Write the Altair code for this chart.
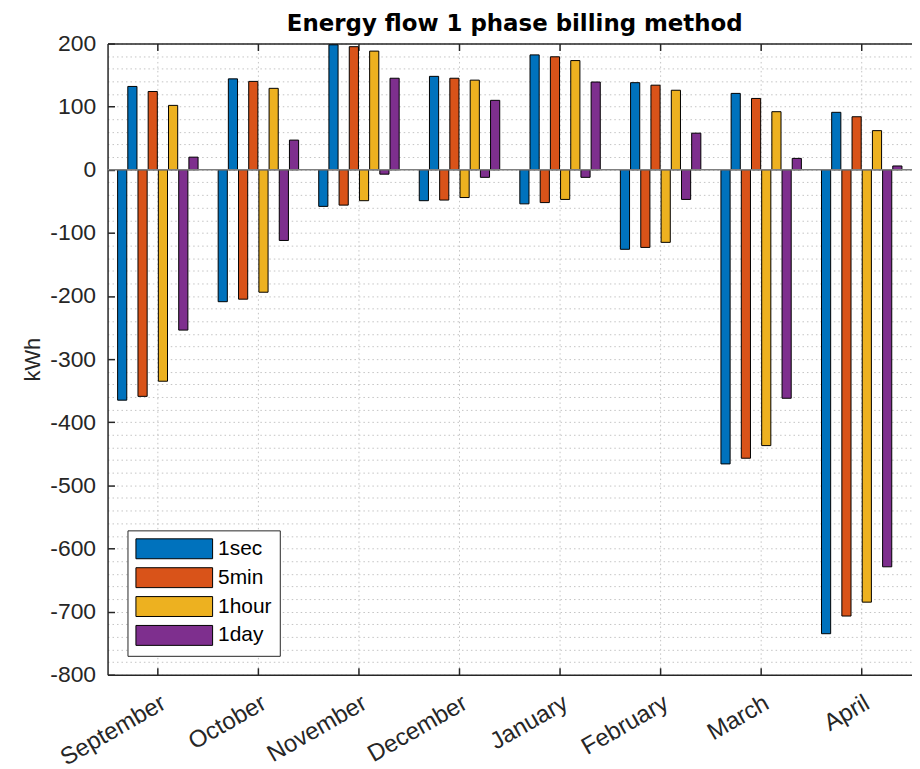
import altair as alt
import pandas as pd

months = ["September", "October", "November", "December",
          "January", "February", "March", "April"]
series = ["1sec", "5min", "1hour", "1day"]
colors = ["#0072BD", "#D95319", "#EDB120", "#7E2F8E"]

neg_1sec = [-365, -209, -58, -49, -54, -126, -466, -735]
pos_1sec = [132, 144, 198, 148, 182, 138, 121, 91]
neg_5min = [-359, -205, -56, -48, -52, -123, -457, -707]
pos_5min = [124, 140, 195, 145, 179, 134, 113, 84]
neg_1hour = [-335, -194, -49, -44, -47, -115, -437, -685]
pos_1hour = [102, 129, 188, 142, 173, 126, 92, 62]
neg_1day = [-254, -112, -7, -12, -12, -47, -362, -629]
pos_1day = [20, 47, 145, 110, 139, 58, 18, 6]

y_ticks = [-800, -700, -600, -500, -400, -300, -200, -100, 0, 100, 200]
minor_grid = list(range(-800, 201, 20))

neg = {"1sec": neg_1sec, "5min": neg_5min, "1hour": neg_1hour, "1day": neg_1day}
pos = {"1sec": pos_1sec, "5min": pos_5min, "1hour": pos_1hour, "1day": pos_1day}

rows = []
for i, m in enumerate(months):
    for s in series:
        rows.append({"month": m, "series": s, "slot": s + " neg", "value": neg[s][i]})
        rows.append({"month": m, "series": s, "slot": s + " pos", "value": pos[s][i]})
df = pd.DataFrame(rows)
slot_order = [f"{s} {k}" for s in series for k in ("neg", "pos")]

FONT = "Liberation Sans"
AX = "#262626"
GRID = "#c4c4c4"
DASH = [1.5, 3]

yscale = alt.Scale(domain=[-800, 200], nice=False, zero=False)
xscale = alt.Scale(domain=months, paddingInner=0.2, paddingOuter=0.1)

grid_layer = alt.Chart(pd.DataFrame({"g": minor_grid})).mark_point(opacity=0).encode(
    y=alt.Y("g:Q", scale=yscale,
            axis=alt.Axis(orient="left", values=minor_grid, grid=True, gridColor=GRID,
                          gridDash=DASH, gridWidth=1, labels=False, ticks=False,
                          domain=False, title=None))
)

top_layer = alt.Chart(pd.DataFrame({"month": months})).mark_point(opacity=0).encode(
    x=alt.X("month:N", sort=months, scale=xscale,
            axis=alt.Axis(orient="top", labels=False, title=None, domain=True,
                          domainColor=AX, domainWidth=1.5, ticks=True, tickColor=AX,
                          tickSize={"expr": "-7"}, tickWidth=1.5, grid=False))
)

bars = alt.Chart(df).mark_bar(stroke="black", strokeWidth=1, opacity=1).encode(
    x=alt.X("month:N", sort=months, scale=xscale,
            axis=alt.Axis(orient="bottom", title=None, labelAngle=330, labelAlign="right",
                          labelBaseline="top", labelFontSize=24, labelFont=FONT,
                          labelColor=AX, labelPadding=23, domainColor=AX, domainWidth=1.5,
                          tickColor=AX, tickSize={"expr": "-7"}, tickWidth=1.5,
                          grid=True, gridDash=DASH, gridColor=GRID, gridWidth=1)),
    xOffset=alt.XOffset("slot:N", sort=slot_order, scale=alt.Scale(paddingInner=0.1)),
    y=alt.Y("value:Q", scale=yscale,
            axis=alt.Axis(orient="left", values=y_ticks, title="kWh", titleFontSize=22,
                          titleFont=FONT, titleFontWeight="normal", titleColor=AX,
                          titlePadding=5, labelFontSize=23, labelFont=FONT, labelColor=AX,
                          labelExpr="'' + datum.value",
                          labelPadding=19, tickSize={"expr": "-7"}, tickColor=AX,
                          tickWidth=1.5, domainColor=AX, domainWidth=1.5, grid=False)),
    color=alt.Color("series:N", sort=series,
                    scale=alt.Scale(domain=series, range=colors),
                    legend=alt.Legend(title=None, orient="none", legendX=20, legendY=489,
                                      symbolType="M-1,-1H6.7V1H-1Z", symbolSize=400,
                                      symbolStrokeColor="black", symbolStrokeWidth=1,
                                      symbolOpacity=1, labelFont=FONT, labelFontSize=21,
                                      labelColor="black", labelOffset=62, rowPadding=4,
                                      padding=8, strokeColor=AX, fillColor="white")),
)

zero = alt.Chart(pd.DataFrame({"z": [0]})).mark_rule(color="#7f7f7f", strokeWidth=1.5).encode(
    y=alt.Y("z:Q", scale=yscale, axis=None)
)

chart = alt.layer(grid_layer, top_layer, bars, zero).resolve_axis(
    x="independent", y="independent"
).properties(
    width=808, height=634,
    title=alt.Title("Energy flow 1 phase billing method", font="DejaVu Sans", fontSize=23,
                    fontWeight="bold", color="black", anchor="middle",
                    offset=0, dx=5, dy=3),
    padding={"left": 100, "top": 34, "right": 0, "bottom": 93},
    autosize=alt.AutoSizeParams(type="none"),
).configure_view(stroke=None)

chart.save("out.html", embed_options={"renderer": "svg", "actions": False})
